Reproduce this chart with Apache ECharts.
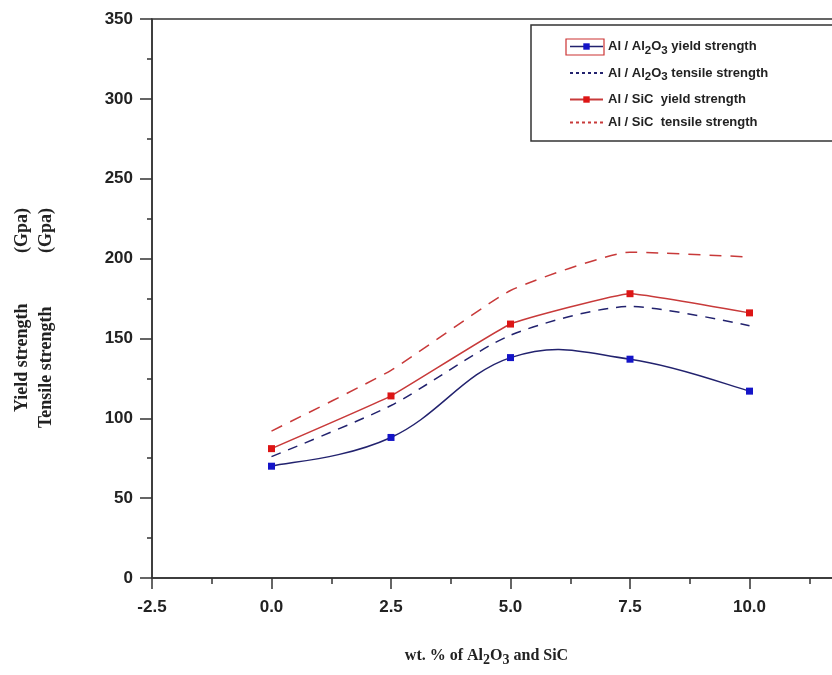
<!DOCTYPE html>
<html>
<head>
<meta charset="utf-8">
<script src="https://cdn.jsdelivr.net/npm/echarts@6/dist/echarts.min.js"></script>
<style>
  html, body { margin: 0; padding: 0; background: #fff; overflow: hidden; }
  /* the plot runs past the right edge of the window, as in the cropped original */
  #chart { width: 869px; height: 675px; }
</style>
</head>
<body>
<div id="chart"></div>
<script>
// wt.% of reinforcement
var xValues = [0, 2.5, 5, 7.5, 10];
// strengths (Gpa)
var al2o3Yield = [70, 88, 138, 137, 117];
var al2o3Tensile = [76, 108, 152, 170, 158];
var sicYield = [81, 114, 159, 178, 166];
var sicTensile = [92, 130, 180, 204, 201];

var seriesNames = ['Al / Al2O3 yield strength', 'Al / Al2O3 tensile strength', 'Al / SiC  yield strength', 'Al / SiC  tensile strength'];

function pairs(ys) {
  return xValues.map(function (x, i) { return [x, ys[i]]; });
}

var chart = echarts.init(document.getElementById('chart'));

var labelFont = { fontFamily: 'Liberation Sans', fontWeight: 'bold', fontSize: 17, color: '#222' };
var serifBold = 'Liberation Serif';
var yTitleFont = 'bold 18px "Liberation Serif"';
var navy = '#22226e';

// spline through the Al2O3 yield points (Origin draws it with overshoot, echarts' smooth clamps it)
function renderSpline(params, api) {
  if (params.dataIndex !== 0) return null;
  var pts = xValues.map(function (x, i) { return api.coord([x, al2o3Yield[i]]); });
  var n = pts.length;
  var tan = pts.map(function (p, i) {
    var a = pts[Math.max(i - 1, 0)], b = pts[Math.min(i + 1, n - 1)];
    var k = (i === 0 || i === n - 1) ? 0.5 : 0.6;
    return [(b[0] - a[0]) * k, (b[1] - a[1]) * k];
  });
  var children = [];
  for (var i = 0; i < n - 1; i++) {
    children.push({
      type: 'bezierCurve',
      shape: {
        x1: pts[i][0], y1: pts[i][1],
        cpx1: pts[i][0] + tan[i][0] / 3, cpy1: pts[i][1] + tan[i][1] / 3,
        cpx2: pts[i + 1][0] - tan[i + 1][0] / 3, cpy2: pts[i + 1][1] - tan[i + 1][1] / 3,
        x2: pts[i + 1][0], y2: pts[i + 1][1]
      },
      style: { stroke: navy, lineWidth: 1.5, fill: null }
    });
  }
  return { type: 'group', children: children };
}

var option = {
  animation: false,
  grid: {
    show: true,
    left: 152,
    top: 19,
    bottom: 97,
    right: 0,
    borderColor: '#333',
    borderWidth: 1.5
  },
  legend: {
    orient: 'vertical',
    left: 531,
    top: 25,
    padding: [15, 70, 12, 38],
    itemGap: 10,
    itemWidth: 33,
    itemHeight: 8,
    borderColor: '#333',
    borderWidth: 1.5,
    data: [
      { name: seriesNames[0], lineStyle: { color: navy, width: 1.5, opacity: 1 } },
      { name: seriesNames[1], itemStyle: { opacity: 0 }, lineStyle: { type: [3, 3] } },
      { name: seriesNames[2] },
      { name: seriesNames[3], itemStyle: { opacity: 0 }, lineStyle: { type: [3, 3] } }
    ],
    formatter: function (name) {
      return name.replace('Al2O3', 'Al{sub|2}O{sub|3}');
    },
    textStyle: {
      fontFamily: 'Liberation Sans',
      fontWeight: 'bold',
      fontSize: 13,
      color: '#222',
      rich: {
        sub: { fontFamily: 'Liberation Sans', fontWeight: 'bold', fontSize: 11.5, color: '#222', padding: [8, 0, 0, 0] }
      }
    }
  },
  xAxis: {
    type: 'value',
    min: -2.5,
    max: 12.5,
    interval: 2.5,
    splitLine: { show: false },
    axisLine: { onZero: false, lineStyle: { color: '#333', width: 1.5 } },
    axisTick: { length: 11, lineStyle: { color: '#333', width: 1.5 } },
    minorTick: { show: true, splitNumber: 2, length: 6, lineStyle: { color: '#333', width: 1.5 } },
    axisLabel: Object.assign({
      margin: 21,
      showMaxLabel: false,
      formatter: function (v) { return v.toFixed(1); }
    }, labelFont),
    name: 'wt. % of Al{sub|2}O{sub|3} and SiC',
    nameLocation: 'middle',
    nameGap: 66,
    nameTextStyle: {
      fontFamily: serifBold,
      fontWeight: 'bold',
      fontSize: 16,
      color: '#222',
      padding: [0, 48, 0, 0],
      rich: {
        sub: { fontFamily: serifBold, fontWeight: 'bold', fontSize: 14, color: '#222', padding: [9, 0, 0, 0] }
      }
    }
  },
  yAxis: {
    type: 'value',
    min: 0,
    max: 350,
    interval: 50,
    splitLine: { show: false },
    axisLine: { onZero: false, lineStyle: { color: '#333', width: 1.5 } },
    axisTick: { length: 12, lineStyle: { color: '#333', width: 1.5 } },
    minorTick: { show: true, splitNumber: 2, length: 5, lineStyle: { color: '#333', width: 1.5 } },
    axisLabel: Object.assign({ margin: 19 }, labelFont)
  },
  graphic: [
    // highlight box around the first legend symbol
    { type: 'rect', shape: { x: 566, y: 39, width: 38, height: 16 }, style: { fill: 'none', stroke: '#c33', lineWidth: 1.2 }, z: 100 },
    // y axis titles
    { type: 'text', x: 22, y: 412, rotation: Math.PI / 2,
      style: { text: 'Yield strength', font: yTitleFont, fill: '#222', align: 'left', verticalAlign: 'middle' } },
    { type: 'text', x: 22, y: 208, rotation: Math.PI / 2,
      style: { text: '(Gpa)', font: yTitleFont, fill: '#222', align: 'right', verticalAlign: 'middle' } },
    { type: 'text', x: 46, y: 428, rotation: Math.PI / 2,
      style: { text: 'Tensile strength', font: yTitleFont, fill: '#222', align: 'left', verticalAlign: 'middle' } },
    { type: 'text', x: 46, y: 208, rotation: Math.PI / 2,
      style: { text: '(Gpa)', font: yTitleFont, fill: '#222', align: 'right', verticalAlign: 'middle' } }
  ],
  series: [
    {
      name: 'al2o3YieldCurve',
      type: 'custom',
      data: pairs(al2o3Yield),
      renderItem: renderSpline,
      silent: true,
      z: 1
    },
    {
      name: seriesNames[0],
      type: 'line',
      data: pairs(al2o3Yield),
      symbol: 'rect',
      symbolSize: 7,
      itemStyle: { color: '#1414c8' },
      lineStyle: { color: navy, width: 1.5, opacity: 0 },
      z: 3
    },
    {
      name: seriesNames[1],
      type: 'line',
      data: pairs(al2o3Tensile),
      smooth: 0.25,
      symbol: 'none',
      itemStyle: { color: navy },
      lineStyle: { color: navy, width: 1.5, type: [10, 8] }
    },
    {
      name: seriesNames[2],
      type: 'line',
      data: pairs(sicYield),
      smooth: 0.1,
      symbol: 'rect',
      symbolSize: 7,
      itemStyle: { color: '#dd1515' },
      lineStyle: { color: '#c83a3a', width: 1.5 },
      z: 3
    },
    {
      name: seriesNames[3],
      type: 'line',
      data: pairs(sicTensile),
      smooth: 0.15,
      symbol: 'none',
      itemStyle: { color: '#c83a3a' },
      lineStyle: { color: '#c83a3a', width: 1.5, type: [12, 9] }
    }
  ]
};

chart.setOption(option);
</script>
</body>
</html>
